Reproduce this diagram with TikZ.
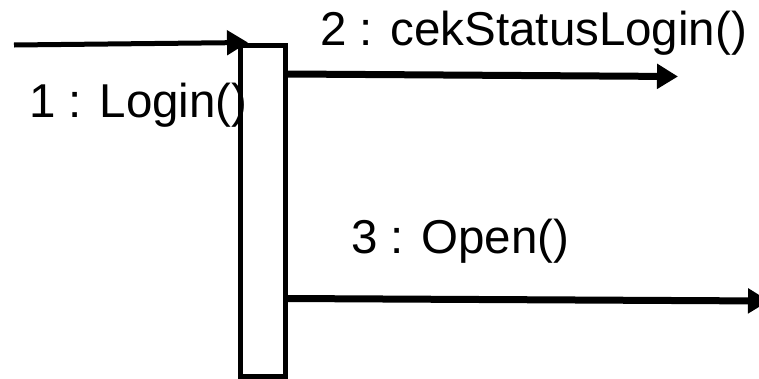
\documentclass[tikz,border=0pt]{standalone}
\usepackage{fontspec}
\setmainfont{Liberation Sans}
\usetikzlibrary{arrows.meta}
\begin{document}
\begin{tikzpicture}[x=1pt,y=1pt,
  msg/.style={line width=5pt,-{Triangle[length=21pt,width=24pt]}},
  thickmsg/.style={msg,line width=7pt},
  lbl/.style={inner sep=0pt,anchor=base west,font=\fontsize{47.5}{56}\selectfont},
  actbox/.style={draw,line width=5pt,fill=white,inner sep=0pt,minimum width=45pt,minimum height=331pt}]
\useasboundingbox (0,0) rectangle (759,-378);
\clip (0,0) rectangle (759,-378);
\node[actbox] (act) at (263,-210.5) {};
\coordinate (caller) at (14,-45);
\coordinate (t2) at (678,-76.5);
\coordinate (t3) at (769,-301);
\draw[msg] (caller) -- ([xshift=10pt]act.north west);
\draw[thickmsg] ([yshift=-31.5pt]act.north east) -- (t2);
\draw[thickmsg] ([yshift=-256pt]act.north east) -- (t3);
\node[lbl] (l1) at (29,-117) {1 : Login()};
\node[lbl] (l2) at (320,-45) {2 : cekStatusLogin()};
\node[lbl] (l3) at (351,-253) {3 : Open()};
\end{tikzpicture}
\end{document}
